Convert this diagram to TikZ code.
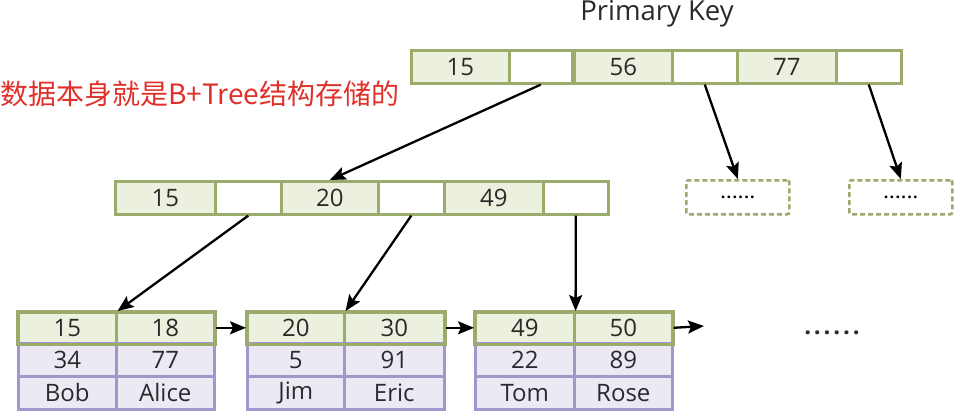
\documentclass[tikz,border=0pt]{standalone}
\usepackage{fontspec}
\setmainfont{Open Sans}
\newfontfamily\cjkfont{Noto Sans CJK SC}
\usetikzlibrary{arrows.meta}
\definecolor{gborder}{HTML}{9AAB6B}
\definecolor{gfill}{HTML}{EBF1DE}
\definecolor{pborder}{HTML}{A197CC}
\definecolor{pfill}{HTML}{ECE9F4}
\definecolor{redtext}{HTML}{E0302A}
\definecolor{txt}{HTML}{2A2A2A}
\tikzset{
  cellbase/.style={draw, line width=2.6pt, anchor=north west, inner sep=0pt, text=txt,
    font=\fontsize{24}{24}\selectfont},
  gcell/.style={cellbase, draw=gborder, fill=gfill},
  wcell/.style={cellbase, draw=gborder, fill=white},
  pcell/.style={cellbase, draw=pborder, fill=pfill},
  dashbox/.style={draw=gborder, dashed, dash pattern=on 5pt off 3pt, line width=2.6pt, rounded corners=2pt,
    anchor=north west, minimum width=103pt, minimum height=34pt, inner sep=0pt,
    font=\fontsize{16}{16}\selectfont\bfseries\addfontfeature{LetterSpace=8}},
  arr/.style={line width=2.3pt, -{Stealth[length=16pt,width=13pt,inset=3pt]}},
}
\begin{document}
\begin{tikzpicture}[x=1pt,y=-1pt]
\useasboundingbox (0,0) rectangle (964,418);
% title
\node[font=\fontsize{27.5}{27.5}\selectfont, text=txt] (title) at (657,14) {Primary Key};
\node[font=\cjkfont\fontsize{28}{28}\selectfont, text=redtext, anchor=west, inner sep=0pt] (note) at (0,94) {数据本身就是B+Tree结构存储的};
% top row
\node[gcell, minimum width=98pt, minimum height=33pt] (t1) at (410,49) {15};
\node[wcell, minimum width=63pt, minimum height=33pt] (t2) at (508,49) {};
\node[gcell, minimum width=98pt, minimum height=33pt] (t3) at (573,49) {56};
\node[wcell, minimum width=65pt, minimum height=33pt] (t4) at (671,49) {};
\node[gcell, minimum width=99pt, minimum height=33pt] (t5) at (736,49) {77};
\node[wcell, minimum width=65pt, minimum height=33pt] (t6) at (835,49) {};
% middle row
\node[gcell, minimum width=100pt, minimum height=33pt] (m1) at (114,180) {15};
\node[wcell, minimum width=66pt, minimum height=33pt] (m2) at (214,180) {};
\node[gcell, minimum width=97pt, minimum height=33pt] (m3) at (280,180) {20};
\node[wcell, minimum width=66pt, minimum height=33pt] (m4) at (377,180) {};
\node[gcell, minimum width=99pt, minimum height=33pt] (m5) at (443,180) {49};
\node[wcell, minimum width=65pt, minimum height=33pt] (m6) at (542,180) {};
% dashed boxes
\node[dashbox] (d1) at (685,179) {......};
\node[dashbox] (d2) at (848,179) {......};
% leaf 1
\node[gcell, minimum width=98pt, minimum height=31pt] (a1) at (17,311) {15};
\node[gcell, minimum width=98pt, minimum height=31pt] (a2) at (115,311) {18};
\node[pcell, minimum width=98pt, minimum height=33pt] (a3) at (17,342) {34};
\node[pcell, minimum width=98pt, minimum height=33pt] (a4) at (115,342) {77};
\node[pcell, minimum width=98pt, minimum height=33pt] (a5) at (17,375) {Bob};
\node[pcell, minimum width=98pt, minimum height=33pt] (a6) at (115,375) {Alice};
\draw[gborder, line width=2.6pt] (a1.north west) rectangle (a2.south east);
% leaf 2
\node[gcell, minimum width=97pt, minimum height=31pt] (b1) at (246,311) {20};
\node[gcell, minimum width=100pt, minimum height=31pt] (b2) at (343,311) {30};
\node[pcell, minimum width=97pt, minimum height=33pt] (b3) at (246,342) {5};
\node[pcell, minimum width=100pt, minimum height=33pt] (b4) at (343,342) {91};
\node[pcell, minimum width=97pt, minimum height=33pt] (b5) at (246,375) {Jim};
\node[pcell, minimum width=100pt, minimum height=33pt] (b6) at (343,375) {Eric};
\draw[gborder, line width=2.6pt] (b1.north west) rectangle (b2.south east);
% leaf 3
\node[gcell, minimum width=99pt, minimum height=31pt] (c1) at (474,311) {49};
\node[gcell, minimum width=98pt, minimum height=31pt] (c2) at (573,311) {50};
\node[pcell, minimum width=99pt, minimum height=33pt] (c3) at (474,342) {22};
\node[pcell, minimum width=98pt, minimum height=33pt] (c4) at (573,342) {89};
\node[pcell, minimum width=99pt, minimum height=33pt] (c5) at (474,375) {Tom};
\node[pcell, minimum width=98pt, minimum height=33pt] (c6) at (573,375) {Rose};
\draw[gborder, line width=2.6pt] (c1.north west) rectangle (c2.south east);
% more
\node[font=\fontsize{24}{24}\selectfont\bfseries\addfontfeature{LetterSpace=12}, text=txt] (more) at (832,333) {......};
\coordinate (nextend) at (704,326);
% arrows
\draw[arr] (t2.south) -- (m3.north);
\draw[arr] (t4.south) -- (d1.north);
\draw[arr] (t6.south) -- (d2.north);
\draw[arr] (m2.south) -- (a1.north east);
\draw[arr] (m4.south) -- (b1.north east);
\draw[arr] (m6.south) -- (c1.north east);
\draw[arr] (a2.east) -- (b1.west);
\draw[arr] (b2.east) -- (c1.west);
\draw[arr] (c2.east) -- (nextend);
\end{tikzpicture}
\end{document}
